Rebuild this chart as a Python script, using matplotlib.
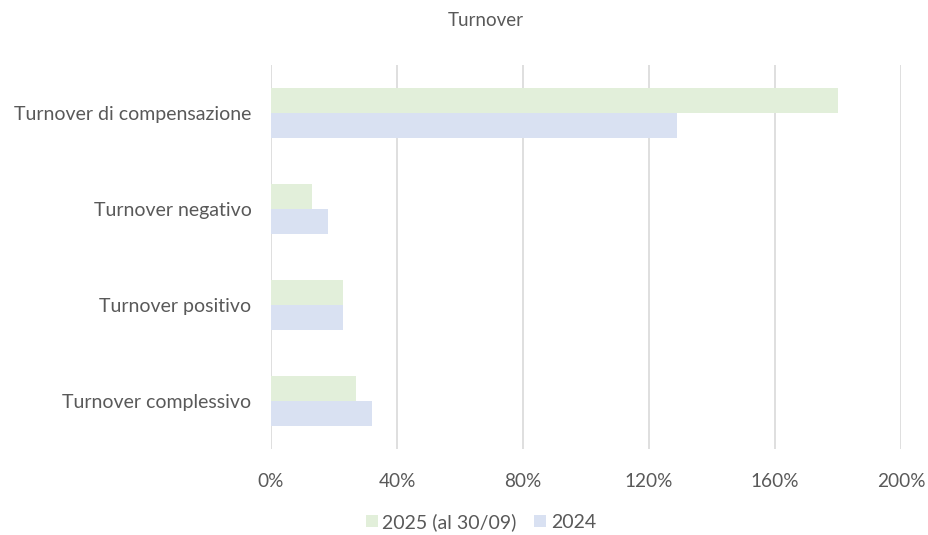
import matplotlib
matplotlib.use("Agg")
import matplotlib.pyplot as plt
import numpy as np
from matplotlib.patches import Patch

categories = ["Turnover di compensazione", "Turnover negativo", "Turnover positivo", "Turnover complessivo"]
series_2025 = [180, 13, 23, 27]
series_2024 = [129, 18, 23, 32]
series_names = ["2025 (al 30/09)", "2024"]
xticks = [0, 40, 80, 120, 160, 200]
xtick_labels = ["0%", "40%", "80%", "120%", "160%", "200%"]

plt.rcParams['font.family'] = ['Lato', 'DejaVu Sans']
txt = "#595959"
c25 = "#E2EFDA"
c24 = "#D9E1F2"

fig = plt.figure(figsize=(9.29, 5.35), dpi=100)
ax = fig.add_axes([271/929, 1-449/535, 630/929, 384/535])

y = np.arange(len(categories))
h = 0.26
ax.barh(y - h/2, series_2025, height=h, color=c25, zorder=2)
ax.barh(y + h/2, series_2024, height=h, color=c24, zorder=2)
ax.set_ylim(len(categories) - 0.5, -0.5)
ax.set_xlim(0, 200)
ax.set_yticks(y)
ax.set_yticklabels(categories, fontsize=14, color=txt)
ax.set_xticks(xticks)
ax.set_xticklabels(xtick_labels, fontsize=13.7, color=txt)
ax.tick_params(axis='both', length=0)
ax.tick_params(axis='y', pad=14)
ax.tick_params(axis='x', pad=17)
ax.grid(axis='x', color="#D9D9D9", linewidth=1.2, zorder=0)
for s in ax.spines.values():
    s.set_visible(False)

fig.text(486/929, 1-21/535, "Turnover", ha='center', va='center', fontsize=13.5, color=txt)

handles = [Patch(facecolor=c25, label=series_names[0]), Patch(facecolor=c24, label=series_names[1])]
fig.legend(handles=handles, loc='center', bbox_to_anchor=(481/929, 1-522/535), ncol=2, frameon=False,
           fontsize=14, labelcolor=txt, handlelength=0.6, handleheight=0.6, handletextpad=0.25, columnspacing=0.9)

fig.savefig("out.png", dpi=100)
